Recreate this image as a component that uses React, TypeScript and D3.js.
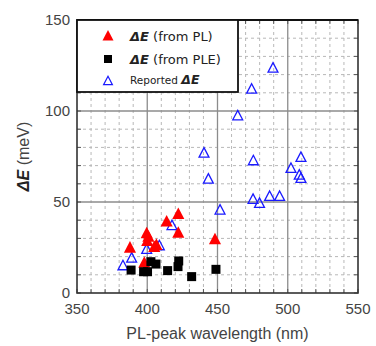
import * as d3 from 'd3';

// data (nm, meV)
const plWave = [387.7, 399.6, 400.8, 400, 406.5, 405, 413.8, 422.1, 422.1, 397.9, 448.2];
const plDE = [24.9, 32.8, 30.9, 28.5, 26.4, 25.2, 39.2, 43.4, 33.1, 16.6, 29.5];

const pleWave = [388.5, 397.4, 400.2, 402.6, 406.2, 414.5, 422.4, 421.9, 431.6, 448.9];
const pleDE = [12.6, 11.7, 11.7, 17.2, 15.9, 12.3, 17.6, 14.5, 9, 13];

const repWave = [382.7, 388.9, 399.6, 408.6, 417.6, 440.4, 443.5, 451.8, 464.4, 474.3, 489.5, 475.5, 509.4, 502.3, 508.2, 509.4, 487.1, 494.2, 475.3, 479.9];
const repDE = [15, 19.2, 24, 26, 37.1, 76.9, 62.6, 45.6, 97.4, 112, 123.6, 72.7, 74.5, 68.5, 64.8, 63, 53.1, 53.1, 51.5, 49.3];

const xTicks = [350, 400, 450, 500, 550];
const yTicks = [0, 50, 100, 150];

const W = 376;
const H = 346;
const margin = { top: 20, right: 18, bottom: 53, left: 77 };

export default function App() {
  const width = W - margin.left - margin.right;
  const height = H - margin.top - margin.bottom;

  const x = d3.scaleLinear().domain([350, 550]).range([0, width]);
  const y = d3.scaleLinear().domain([0, 150]).range([height, 0]);

  const minorX = d3.range(350, 551, 10).filter(v => v % 50 !== 0);
  const minorY = d3.range(0, 151, 10).filter(v => v % 50 !== 0);

  const tri = (s: number) => `M0,${-s * 0.6}L${s * 0.55},${s * 0.45}L${-s * 0.55},${s * 0.45}Z`;
  const font = "'Liberation Sans', Arial, sans-serif";
  const legFont = "'DejaVu Sans', Verdana, sans-serif";

  return (
    <svg width={W} height={H} style={{ position: 'absolute', left: 0, top: 0, background: '#fff' }} fontFamily={font}>
      <g transform={`translate(${margin.left},${margin.top})`}>
        {/* minor grid */}
        {minorX.map(v => (
          <line key={'mx' + v} x1={x(v)} x2={x(v)} y1={0} y2={height} stroke="#b8b8b8" strokeWidth={1} strokeDasharray="3,3" />
        ))}
        {minorY.map(v => (
          <line key={'my' + v} x1={0} x2={width} y1={y(v)} y2={y(v)} stroke="#b8b8b8" strokeWidth={1} strokeDasharray="3,3" />
        ))}
        {/* major grid */}
        {xTicks.slice(1, -1).map(v => (
          <line key={'gx' + v} x1={x(v)} x2={x(v)} y1={0} y2={height} stroke="#8c8c8c" strokeWidth={1.3} />
        ))}
        {yTicks.slice(1, -1).map(v => (
          <line key={'gy' + v} x1={0} x2={width} y1={y(v)} y2={y(v)} stroke="#8c8c8c" strokeWidth={1.3} />
        ))}
        {/* inner ticks */}
        {d3.range(350, 551, 10).map(v => (
          <g key={'tx' + v}>
            <line x1={x(v)} x2={x(v)} y1={height} y2={height - 4} stroke="#555" />
            <line x1={x(v)} x2={x(v)} y1={0} y2={4} stroke="#555" />
          </g>
        ))}
        {d3.range(0, 151, 10).map(v => (
          <g key={'ty' + v}>
            <line x1={0} x2={4} y1={y(v)} y2={y(v)} stroke="#555" />
            <line x1={width} x2={width - 4} y1={y(v)} y2={y(v)} stroke="#555" />
          </g>
        ))}

        {/* reported */}
        {repWave.map((w, i) => (
          <path key={'r' + i} d={tri(9)} transform={`translate(${x(w)},${y(repDE[i])})`} fill="none" stroke="#1a1aff" strokeWidth={1.3} />
        ))}
        {/* PL */}
        {plWave.map((w, i) => (
          <path key={'p' + i} d={tri(11)} transform={`translate(${x(w)},${y(plDE[i])})`} fill="#ff0000" />
        ))}
        {/* PLE */}
        {pleWave.map((w, i) => (
          <rect key={'s' + i} x={x(w) - 4.5} y={y(pleDE[i]) - 4.5} width={9} height={9} fill="#000" />
        ))}

        {/* frame */}
        <rect x={0} y={0} width={width} height={height} fill="none" stroke="#333" strokeWidth={1.6} />
        <line x1={0} x2={width} y1={0} y2={0} stroke="#111" strokeWidth={2.2} />

        {/* legend */}
        <g fontFamily={legFont}>
          <rect x={0} y={0} width={161} height={72} fill="#fff" stroke="#111" strokeWidth={1.8} />
          <path d={tri(10)} transform="translate(31,16)" fill="#ff0000" />
          <text x={53} y={21} fontSize={13} fill="#222">
            <tspan fontWeight="bold" fontStyle="italic">ΔE</tspan> (from PL)
          </text>
          <rect x={27} y={35} width={8} height={8} fill="#000" />
          <text x={53} y={44} fontSize={13} fill="#222">
            <tspan fontWeight="bold" fontStyle="italic">ΔE</tspan> (from PLE)
          </text>
          <path d={tri(8)} transform="translate(31,61)" fill="none" stroke="#1a1aff" strokeWidth={1.2} />
          <text x={53} y={64} fontSize={10.5} fill="#222">
            Reported <tspan fontWeight="bold" fontStyle="italic" fontSize={12.5}>ΔE</tspan>
          </text>
        </g>

        {/* axis labels */}
        {xTicks.map(v => (
          <text key={'xl' + v} x={x(v)} y={height + 21} textAnchor="middle" fontSize={15} fill="#444">{v}</text>
        ))}
        {yTicks.map(v => (
          <text key={'yl' + v} x={-7} y={y(v) + 5} textAnchor="end" fontSize={15} fill="#444">{v}</text>
        ))}
        <text x={width / 2} y={height + 46} textAnchor="middle" fontSize={16} fill="#444">PL-peak wavelength (nm)</text>
        <text transform={`translate(-48,${height / 2}) rotate(-90)`} textAnchor="middle" fontSize={16} fill="#444">
          <tspan fontWeight="bold" fontStyle="italic" fill="#222">ΔE</tspan> (meV)
        </text>
      </g>
    </svg>
  );
}
